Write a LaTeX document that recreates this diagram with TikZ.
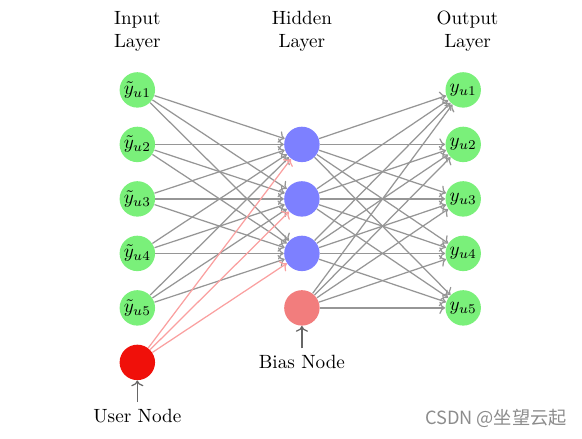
\documentclass[tikz,border=0pt]{standalone}
\usepackage{tikz}
\usepackage{fontspec}
\usetikzlibrary{arrows.meta, positioning}
\newfontfamily\cjksans{Noto Sans CJK SC}
\definecolor{verdeNo}{RGB}{122,240,122}
\definecolor{azulNo}{RGB}{125,128,255}
\definecolor{rosaNo}{RGB}{242,125,125}
\definecolor{vermelhoNo}{RGB}{240,16,10}
\definecolor{cinzaSeta}{RGB}{150,150,150}
\definecolor{rosaSeta}{RGB}{250,160,160}

\begin{document}
\begin{tikzpicture}[
    neuron/.style={circle, minimum size=18.5pt, inner sep=0pt, font=\normalsize},
    inneuron/.style={neuron, fill=verdeNo},
    hidneuron/.style={neuron, fill=azulNo},
    biasneuron/.style={neuron, fill=rosaNo},
    userneuron/.style={neuron, fill=vermelhoNo},
    outneuron/.style={neuron, fill=verdeNo},
    title/.style={align=center, font=\normalsize},
    edge/.style={line width=0.65pt, ->, draw=cinzaSeta},
    useredge/.style={line width=0.65pt, ->, draw=rosaSeta},
    pointer/.style={line width=0.65pt, ->, draw=black!60}
]
    \useasboundingbox (0,0) rectangle (10.68,-8.055);

    % Camadas
    \foreach \i in {1,...,5} {
        \node[inneuron] (I-\i) at (2.52, -0.65-\i) {$\tilde{y}_{u\i}$};
        \node[outneuron] (O-\i) at (8.5, -0.65-\i) {$y_{u\i}$};
    }
    \foreach \j in {1,...,3}
        \node[hidneuron] (H-\j) at (5.54, -1.65-\j) {};
    \node[biasneuron] (B) at (5.54, -5.65) {};
    \node[userneuron] (U) at (2.52, -6.65) {};

    % Titulos
    \node[title] (tin) at (2.52, -0.58) {Input\\Layer};
    \node[title] (thid) at (5.54, -0.58) {Hidden\\Layer};
    \node[title] (tout) at (8.58, -0.58) {Output\\Layer};

    % Legendas
    \node (lbias) at (5.54, -6.64) {Bias Node};
    \node (luser) at (2.52, -7.63) {User Node};
    \draw[pointer] (lbias) -- (B);
    \draw[pointer] (luser) -- (U);

    % Conexoes
    \foreach \i in {1,...,5}
        \foreach \j in {1,...,3}
            \draw[edge] (I-\i) -- (H-\j);
    \foreach \j in {1,...,3}
        \draw[useredge] (U) -- (H-\j);
    \foreach \k in {1,...,5} {
        \foreach \j in {1,...,3}
            \draw[edge] (H-\j) -- (O-\k);
        \draw[edge] (B) -- (O-\k);
    }

    % Marca
    \node[text=black!45, font=\cjksans\fontsize{9.5}{11}\selectfont] (marca) at (9.1, -7.67) {CSDN @坐望云起};
\end{tikzpicture}
\end{document}
